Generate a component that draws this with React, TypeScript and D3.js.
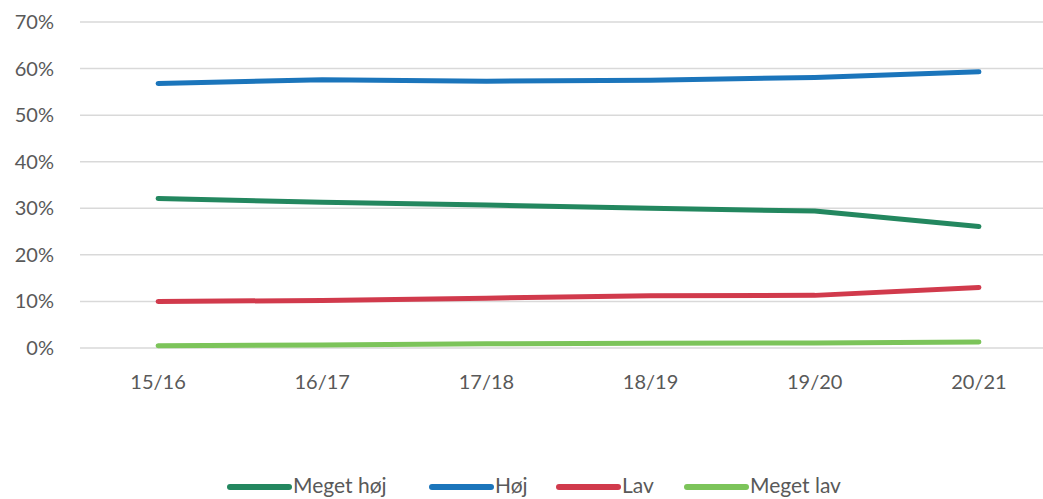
import React from "react";
import * as d3 from "d3";

const categories = ["15/16", "16/17", "17/18", "18/19", "19/20", "20/21"];
const megetHoj = [32.1, 31.3, 30.7, 30.0, 29.4, 26.1];
const hoj = [56.8, 57.6, 57.3, 57.5, 58.1, 59.3];
const lav = [10.0, 10.2, 10.7, 11.2, 11.3, 13.0];
const megetLav = [0.5, 0.65, 0.9, 1.0, 1.1, 1.3];
const yTicks = [0, 10, 20, 30, 40, 50, 60, 70];

const series = [
  { name: "Meget høj", values: megetHoj, color: "#23875f" },
  { name: "Høj", values: hoj, color: "#1b75bb" },
  { name: "Lav", values: lav, color: "#d13a4c" },
  { name: "Meget lav", values: megetLav, color: "#7cc45a" },
];

const legendX = [230, 432, 559, 687];

export default function App() {
  const W = 1043, H = 499;
  const x = d3.scaleBand().domain(categories).range([76, 1061]);
  const y = d3.scaleLinear().domain([0, 70]).range([348, 22]);
  const cx = (c: string) => (x(c) as number) + x.bandwidth() / 2;
  const line = d3
    .line<number>()
    .x((_, i) => cx(categories[i]))
    .y((v) => y(v))
    .curve(d3.curveLinear);
  const font = "Lato, 'Open Sans', sans-serif";
  return (
    <div style={{ position: "fixed", left: 0, top: 0 }}>
      <svg width={W} height={H} style={{ display: "block", background: "#fff" }}>
        {yTicks.map((t) => (
          <g key={t}>
            <line x1={80} x2={W} y1={y(t)} y2={y(t)} stroke="#d9d9d9" strokeWidth={1.5} />
            <text x={54} y={y(t)} dy="0.35em" textAnchor="end" fontSize={20} fill="#595959" fontFamily={font}>
              {t}%
            </text>
          </g>
        ))}
        {categories.map((c) => (
          <text key={c} x={cx(c)} y={382} dy="0.35em" textAnchor="middle" fontSize={20} fill="#595959" fontFamily={font}>
            {c}
          </text>
        ))}
        {series.map((s) => (
          <path key={s.name} d={line(s.values) || ""} fill="none" stroke={s.color} strokeWidth={5} strokeLinecap="round" strokeLinejoin="round" />
        ))}
        {series.map((s, i) => (
          <g key={s.name}>
            <line x1={legendX[i]} x2={legendX[i] + 59} y1={487} y2={487} stroke={s.color} strokeWidth={6} strokeLinecap="round" />
            <text x={legendX[i] + 63} y={486} dy="0.35em" fontSize={21} fill="#595959" fontFamily={font}>
              {s.name}
            </text>
          </g>
        ))}
      </svg>
    </div>
  );
}
